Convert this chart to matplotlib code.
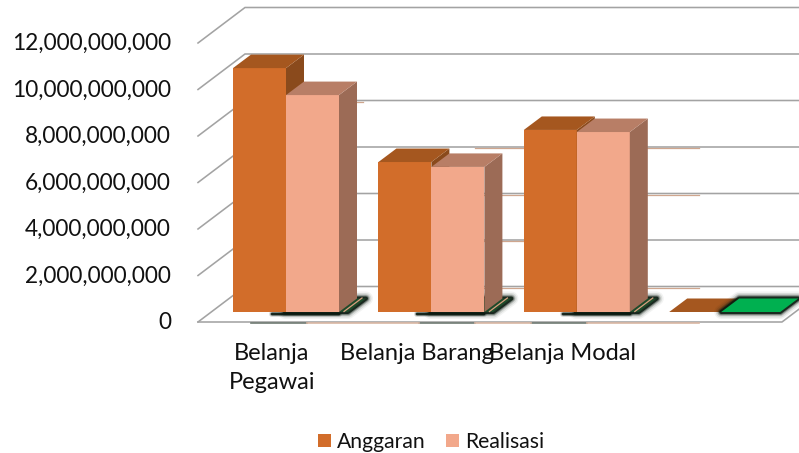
import matplotlib
matplotlib.use("Agg")
import matplotlib.pyplot as plt
from matplotlib.patches import Polygon, Patch
from matplotlib.transforms import ScaledTranslation
import numpy as np

plt.rcParams['font.family'] = ['Lato', 'DejaVu Sans']

categories = ['Belanja\nPegawai', 'Belanja Barang', 'Belanja Modal', '']
anggaran = [10.49e9, 6.45e9, 7.83e9, 0]
realisasi = [9.33e9, 6.24e9, 7.74e9, 0]
nol = [0, 0, 0, 0]
y_ticks = [0, 2e9, 4e9, 6e9, 8e9, 10e9, 12e9]

W, H = 799, 453
fig = plt.figure(figsize=(W / 100, H / 100), dpi=100)
L, R, T, B = 198, 779.6, 43, 322
ax = fig.add_axes([L / W, 1 - B / H, (R - L) / W, (B - T) / H])
ax.set_xlim(-0.5, 3.5)
ax.set_ylim(0, 12e9)
for s in ax.spines.values():
    s.set_visible(False)

ux = 4 / (R - L)          # data per pixel, x
uy = 12e9 / (B - T)       # data per pixel, y


def px(x):
    return (x - L) * ux - 0.5


# wall and floor
wall_dx, wall_dy = 47 * ux, 35.5 * uy
grid = '#A3A3A3'
lw = 1.15
for v in y_ticks:
    ax.plot([px(L), px(L) + wall_dx, px(799)], [v, v + wall_dy, v + wall_dy], color=grid, lw=lw,
            clip_on=False, zorder=1, solid_joinstyle='miter')
ax.plot([px(L), px(782), px(782) + wall_dx], [0, 0, wall_dy], color=grid, lw=lw, clip_on=False, zorder=1)

# tan traces along the wall lines
tan = '#CFA68E'
for v, a, b in [(8e9, 345, 363), (6e9, 475, 699), (4e9, 475, 699), (2e9, 475, 540),
                (0, 475, 699)]:
    ax.plot([px(a), px(b)], [v + wall_dy - 1.1 * uy] * 2, color=tan, lw=0.9,
            clip_on=False, zorder=1.2)

# thin traces below the floor line
for a, b in [(251, 307), (419, 475), (531, 587)]:
    ax.plot([px(a), px(b)], [-1.3 * uy] * 2, color='#6F7A72', lw=1.2, clip_on=False, zorder=1.1)
for a, b in [(307, 419), (475, 531), (587, 699)]:
    ax.plot([px(a), px(b)], [-1.3 * uy] * 2, color='#D9B6A2', lw=1.2, clip_on=False, zorder=1.1)

# bars
bw = 53 * ux
lift = 10 * uy
shift = 15.3 * ux
dx, dy = 18 * ux, 13.5 * uy
pos = np.arange(len(categories))
left_a = pos + shift - bw
left_b = pos + shift
c_a = ('#D26D2A', '#A5571F', '#8A4A1C')
c_b = ('#F2A88B', '#B87E66', '#9C6B56')
green_face = ['#1E4A2A', '#1E4A2A', '#1E4A2A', '#00B050']
green_pad = [9, 9, 9, 5]


def bar3d(left, val, cols, z):
    top = val + lift
    if val > 0:
        ax.bar(left + bw / 2, val, bw, bottom=lift, color=cols[0], zorder=z, linewidth=0)
        ax.add_patch(Polygon([(left + bw, lift), (left + bw + dx, lift + dy),
                              (left + bw + dx, top + dy), (left + bw, top)],
                             fc=cols[2], ec='none', zorder=z, clip_on=False))
    ax.add_patch(Polygon([(left, top), (left + dx, top + dy), (left + bw + dx, top + dy),
                          (left + bw, top)], fc=cols[1], ec='none',
                         zorder=z if val > 0 else 1.5, clip_on=False))


for i in pos:
    # zero-height third series with its dark, blurred outline
    l = left_b[i]
    v = nol[i] + lift
    p = green_pad[i] * ux
    pts = [(l - 1 * ux, v), (l + dx - 1 * ux, v + dy),
           (l + bw + dx + p, v + dy), (l + bw + p, v)]
    if i < 3:
        # dark shadow running left beneath the bar
        for w, a in [(6, 0.15), (4, 0.35), (2.4, 0.9)]:
            ax.plot([l - 14 * ux, l + bw], [v - 1.5 * uy] * 2, color='#0A1A10', lw=w * 0.72, alpha=a,
                    zorder=2, solid_capstyle='round', clip_on=False)
    for w, a in [(14, 0.05), (11, 0.1), (8, 0.2), (6, 0.35), (4, 0.85)]:
        ax.add_patch(Polygon(pts, fc='none', ec='#0A1A10', lw=w * 0.72, alpha=a, zorder=2,
                             joinstyle='round', clip_on=False))
    ax.add_patch(Polygon(pts, fc=green_face[i], ec='none', zorder=2.1, clip_on=False))
    if i < 3:
        ax.plot([l + bw + 5 * ux, l + bw + dx + 5 * ux], [v + 0.5 * uy, v + dy + 0.5 * uy],
                color='#D9A080', lw=0.9, zorder=2.2, clip_on=False)
    bar3d(left_a[i], anggaran[i], c_a, 3 + i * 0.1)
    bar3d(left_b[i], realisasi[i], c_b, 3.05 + i * 0.1)

# axes text
ax.set_yticks(y_ticks)
ax.set_yticklabels([f'{int(v):,}' for v in y_ticks], fontsize=16.3, color='#111111')
ax.tick_params(axis='y', length=0, pad=19.4)
ax.set_xticks(pos + 1.2 * ux)
ax.set_xticklabels(categories, fontsize=17, color='#111111', linespacing=1.5)
ax.tick_params(axis='x', length=0, pad=15)
off = ScaledTranslation(0, 1 / 72, fig.dpi_scale_trans)
for lab in ax.get_yticklabels():
    lab.set_transform(lab.get_transform() + off)

handles = [Patch(fc=c_a[0], label='Anggaran'), Patch(fc=c_b[0], label='Realisasi')]
fig.legend(handles=handles, loc='center', bbox_to_anchor=(431 / W, 1 - 442 / H), ncol=2, frameon=False,
           fontsize=15.2, handlelength=0.62, handleheight=0.62, handletextpad=0.3, columnspacing=0.95,
           labelcolor='#111111')

fig.savefig('out.png', dpi=100)
